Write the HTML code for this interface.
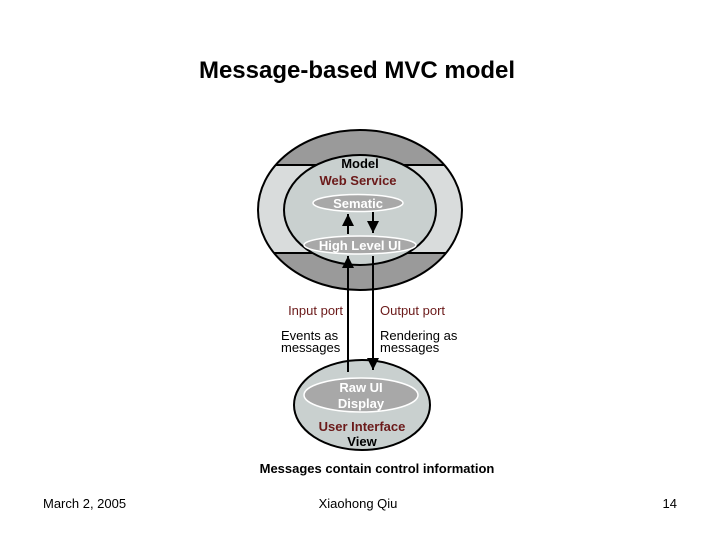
<!DOCTYPE html>
<html><head><style>
body{margin:0;background:#fff;}
svg{display:block}
text{font-family:"Liberation Sans",Arial,sans-serif;}
</style></head><body>
<svg width="720" height="540" viewBox="0 0 720 540" xmlns="http://www.w3.org/2000/svg">
<defs>
<clipPath id="oc"><ellipse cx="360" cy="210" rx="102" ry="80"/></clipPath>
<marker id="ah" markerWidth="12" markerHeight="12" refX="10" refY="5" orient="auto" markerUnits="userSpaceOnUse" viewBox="0 0 10 10"><path d="M0,0 L10,5 L0,10 Z" fill="#000"/></marker>
</defs>
<text x="357" y="78" font-size="24" font-weight="bold" text-anchor="middle" fill="#000">Message-based MVC model</text>
<g clip-path="url(#oc)">
<rect x="250" y="120" width="220" height="180" fill="#d9dcdc"/>
<rect x="250" y="120" width="220" height="45" fill="#9a9a9a"/>
<rect x="250" y="253" width="220" height="50" fill="#9a9a9a"/>
<line x1="250" y1="165" x2="470" y2="165" stroke="#000" stroke-width="2"/>
<line x1="250" y1="253" x2="470" y2="253" stroke="#000" stroke-width="2"/>
</g>
<ellipse cx="360" cy="210" rx="102" ry="80" fill="none" stroke="#000" stroke-width="2"/>
<ellipse cx="360" cy="210" rx="76" ry="55" fill="#c9d0cf" stroke="#000" stroke-width="2"/>
<text x="360" y="168" font-size="13" font-weight="bold" text-anchor="middle">Model</text>
<text x="358" y="185" font-size="13" font-weight="bold" text-anchor="middle" fill="#6b1a1a">Web Service</text>
<ellipse cx="358" cy="203" rx="45" ry="8.5" fill="#a8a8a8" stroke="#fff" stroke-width="1.5"/>
<text x="358" y="208" font-size="13" font-weight="bold" text-anchor="middle" fill="#fff">Sematic</text>
<ellipse cx="360" cy="245" rx="56" ry="9" fill="#a8a8a8" stroke="#fff" stroke-width="1.5"/>
<text x="360" y="250" font-size="13" font-weight="bold" text-anchor="middle" fill="#fff">High Level UI</text>
<line x1="348" y1="234" x2="348" y2="214" stroke="#000" stroke-width="2" marker-end="url(#ah)"/>
<line x1="373" y1="212" x2="373" y2="233" stroke="#000" stroke-width="2" marker-end="url(#ah)"/>
<ellipse cx="362" cy="405" rx="68" ry="45" fill="#c9d0cf" stroke="#000" stroke-width="2"/>
<ellipse cx="361" cy="395" rx="57" ry="17" fill="#a8a8a8" stroke="#fff" stroke-width="1.5"/>
<text x="361" y="392" font-size="13" font-weight="bold" text-anchor="middle" fill="#fff">Raw UI</text>
<text x="361" y="408" font-size="13" font-weight="bold" text-anchor="middle" fill="#fff">Display</text>
<text x="362" y="431" font-size="13" font-weight="bold" text-anchor="middle" fill="#6b1a1a">User Interface</text>
<text x="362" y="446" font-size="13" font-weight="bold" text-anchor="middle">View</text>
<line x1="348" y1="372" x2="348" y2="256" stroke="#000" stroke-width="2" marker-end="url(#ah)"/>
<line x1="373" y1="256" x2="373" y2="370" stroke="#000" stroke-width="2" marker-end="url(#ah)"/>
<text x="343" y="315" font-size="13" text-anchor="end" fill="#6b1a1a">Input port</text>
<text x="380" y="315" font-size="13" fill="#6b1a1a">Output port</text>
<text x="281" y="340" font-size="13">Events as</text>
<text x="281" y="352" font-size="13">messages</text>
<text x="380" y="340" font-size="13">Rendering as</text>
<text x="380" y="352" font-size="13">messages</text>
<text x="377" y="473" font-size="13" font-weight="bold" text-anchor="middle">Messages contain control information</text>
<text x="43" y="508" font-size="13">March 2, 2005</text>
<text x="358" y="508" font-size="13" text-anchor="middle">Xiaohong Qiu</text>
<text x="677" y="508" font-size="13" text-anchor="end">14</text>
</svg>
</body></html>
